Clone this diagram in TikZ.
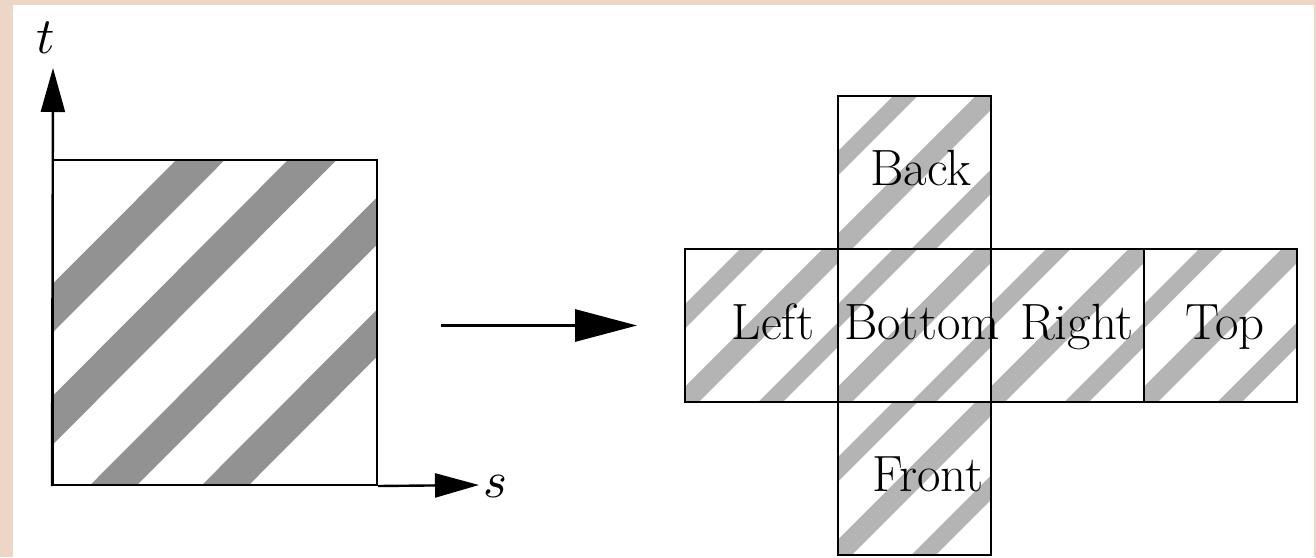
\documentclass[tikz,border=0pt]{standalone}
\usepackage{graphicx}
\usetikzlibrary{arrows.meta}
\definecolor{paper}{RGB}{238,214,198}
\definecolor{stripedark}{RGB}{146,146,146}
\definecolor{stripelight}{RGB}{180,180,180}

% one diagonal band y = x + c, c1 <= c <= c2, in a unit square
\newcommand\band[2]{\fill (-1,{-1+#1}) -- (2,{2+#1}) -- (2,{2+#2}) -- (-1,{-1+#2}) -- cycle;}
% striped cube face with lower left corner at (#1,#2) in pixel units
\newcommand\facestripes[2]{%
  \begin{scope}[shift={(#1,#2)}, x={(153pt,0pt)}, y={(0pt,153pt)}]
    \clip (0,0) rectangle (1,1);
    \begin{scope}[fill=stripelight]
      \band{0.48}{0.64}
      \band{-0.09}{0.10}
      \band{-0.64}{-0.48}
    \end{scope}
  \end{scope}}
% large math-italic axis letter
\newcommand\axisletter[1]{\scalebox{5.1}{$#1$}}

\tikzset{
  outline/.style={draw=black, line width=2pt},
  face/.style={outline, minimum width=153pt, minimum height=153pt, inner sep=0pt},
  facelabel/.style={anchor=base, inner sep=0pt, font=\fontsize{51}{60}\selectfont},
  axislabel/.style={inner sep=0pt},
  axis/.style={line width=2.4pt, -{Triangle[length=44pt,width=24pt]}},
  maparrow/.style={line width=3pt, -{Triangle[length=62pt,width=32pt]}}
}

\begin{document}
\begin{tikzpicture}[x=1pt, y=-1pt]
  % framed page
  \fill[paper] (0,0) rectangle (1316,557);
  \fill[white] (13,5) rectangle (1314,557);
  \useasboundingbox (0,0) rectangle (1316,557);

  % texture square in (s,t)
  \begin{scope}[shift={(53,485)}, x={(324pt,0pt)}, y={(0pt,325pt)}]
    \clip (0,0) rectangle (1,1);
    \begin{scope}[fill=stripedark]
      \band{0.47}{0.62}
      \band{0.125}{0.275}
      \band{-0.26}{-0.115}
      \band{-0.605}{-0.46}
    \end{scope}
  \end{scope}
  \node[outline, minimum width=324pt, minimum height=325pt, inner sep=0pt]
    (tex) at (215,322.5) {};

  % axes
  \coordinate (ttip) at (53,68);
  \coordinate (stip) at (479,485);
  \draw[axis] (tex.south west) -- (ttip);
  \draw[axis] (tex.south east) -- (stip);
  \node[axislabel] (tlab) at (46,38) {\axisletter{t}};
  \node[axislabel] (slab) at (495,487) {\axisletter{s}};

  % unfolded cube
  \facestripes{838}{249}
  \facestripes{685}{402}
  \facestripes{838}{402}
  \facestripes{991}{402}
  \facestripes{1144}{402}
  \facestripes{838}{555}
  \node[face] (back)   at (914.5,172.5) {};
  \node[face] (left)   at (761.5,325.5) {};
  \node[face] (bottom) at (914.5,325.5) {};
  \node[face] (right)  at (1067.5,325.5) {};
  \node[face] (top)    at (1220.5,325.5) {};
  \node[face] (front)  at (914.5,478.5) {};

  \node[facelabel] (lback)   at (921,185) {Back};
  \node[facelabel] (lleft)   at (773,339) {Left};
  \node[facelabel] (lbottom) at (922,339) {Bottom};
  \node[facelabel] (lright)  at (1077,339) {Right};
  \node[facelabel] (ltop)    at (1225,339) {Top};
  \node[facelabel] (lfront)  at (928,491) {Front};

  % mapping arrow
  \draw[maparrow, shorten <=63pt, shorten >=47pt]
    (tex.east |- left.west) -- (left.west);
\end{tikzpicture}
\end{document}
